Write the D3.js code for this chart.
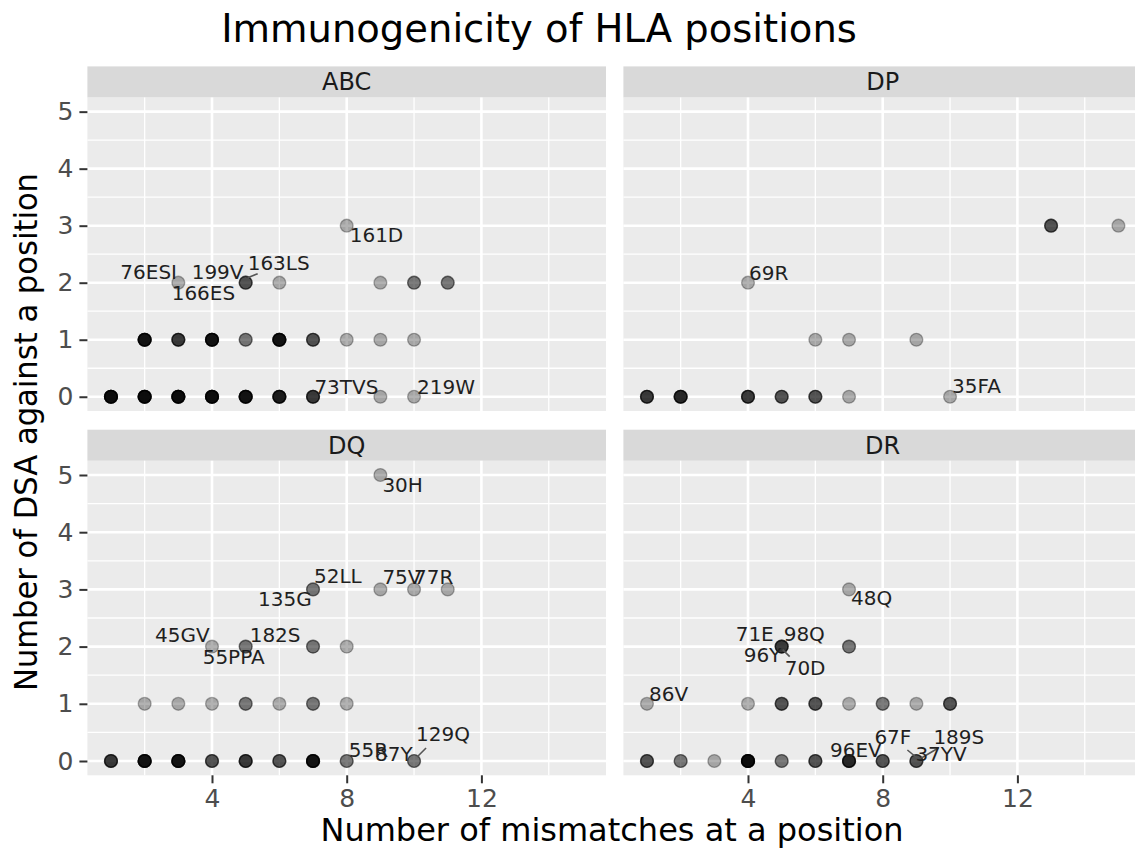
<!DOCTYPE html>
<html>
<head>
<meta charset="utf-8">
<script src="https://cdn.jsdelivr.net/npm/d3@7"></script>
<style>
  html, body { margin: 0; padding: 0; background: #ffffff; }
  svg { display: block; font-family: "DejaVu Sans", sans-serif; }
</style>
</head>
<body>
<svg id="chart" width="1135" height="849"></svg>
<script>
// ---------------- DATA ----------------
const facets = ["ABC", "DP", "DQ", "DR"];
const xTicks = [4, 8, 12];
const yTicks = [0, 1, 2, 3, 4, 5];
const titleText = "Immunogenicity of HLA positions";
const xTitle = "Number of mismatches at a position";
const yTitle = "Number of DSA against a position";

// points: [mismatches, DSA, number of positions overlapping at that spot]
const abcPoints = [
  [1,0,8],[2,0,8],[3,0,8],[4,0,8],[5,0,7],[6,0,6],[7,0,4],[9,0,1],[10,0,1],
  [2,1,7],[3,1,4],[4,1,7],[5,1,2],[6,1,7],[7,1,3],[8,1,1],[9,1,1],[10,1,1],
  [3,2,1],[5,2,3],[6,2,1],[9,2,1],[10,2,2],[11,2,2],
  [8,3,1]
];
const dpPoints = [
  [1,0,4],[2,0,5],[4,0,4],[5,0,3],[6,0,3],[7,0,1],[10,0,1],
  [6,1,1],[7,1,1],[9,1,1],
  [4,2,1],
  [13,3,3],[15,3,1]
];
const dqPoints = [
  [1,0,4],[2,0,7],[3,0,7],[4,0,3],[5,0,4],[6,0,3],[7,0,7],[8,0,2],[10,0,2],
  [2,1,1],[3,1,1],[4,1,1],[5,1,2],[6,1,1],[7,1,2],[8,1,1],
  [4,2,1],[5,2,2],[7,2,2],[8,2,1],
  [7,3,2],[9,3,1],[10,3,1],[11,3,1],
  [9,5,1]
];
const drPoints = [
  [1,0,3],[2,0,2],[3,0,1],[4,0,8],[5,0,2],[6,0,3],[7,0,5],[8,0,3],[9,0,3],
  [1,1,1],[4,1,1],[5,1,3],[6,1,3],[7,1,1],[8,1,2],[9,1,1],[10,1,3],
  [5,2,4],[7,2,2],
  [7,3,1]
];

// labels: [text, mismatches, DSA]
const abcLabels = [["76ESI",3,2],["199V",5,2],["163LS",5,2],["166ES",5,2],["161D",8,3],["73TVS",9,0],["219W",10,0]];
const dpLabels  = [["69R",4,2],["35FA",10,0]];
const dqLabels  = [["30H",9,5],["52LL",7,3],["135G",7,3],["75V",9,3],["77R",10,3],["45GV",4,2],["182S",5,2],["55PPA",5,2],["55R",8,0],["87Y",10,0],["129Q",10,0]];
const drLabels  = [["48Q",7,3],["71E",5,2],["98Q",5,2],["96Y",5,2],["70D",5,2],["86V",1,1],["96EV",7,0],["67F",9,0],["189S",9,0],["37YV",9,0]];

const pointSets = { ABC: abcPoints, DP: dpPoints, DQ: dqPoints, DR: drPoints };
const labelSets = { ABC: abcLabels, DP: dpLabels, DQ: dqLabels, DR: drLabels };

// ---------------- LAYOUT (pixels, not data) ----------------
// label placement relative to its point: [dx to text start, dy to baseline, optional segment]
const labelLayout = {
  ABC: {
    "76ESI": [-58, -4], "199V": [-54, -4], "163LS": [2, -13, [2,-5,12,-9]], "166ES": [-74, 17],
    "161D": [3, 16], "73TVS": [-66, -3], "219W": [3, -3]
  },
  DP: { "69R": [1, -3], "35FA": [2, -4] },
  DQ: {
    "30H": [2, 17], "52LL": [1, -6], "135G": [-55, 17], "75V": [2, -5], "77R": [0, -5],
    "45GV": [-57, -5], "182S": [4, -5], "55PPA": [-43, 17], "55R": [2, -4], "87Y": [-39, 0],
    "129Q": [2, -20, [3,-4,12,-13]]
  },
  DR: {
    "48Q": [2, 16], "71E": [-46, -6], "98Q": [2, -6], "96Y": [-38, 15], "70D": [3, 28, [1,3,8,10]],
    "86V": [2, -3], "96EV": [-19, -4], "67F": [-42, -17, [-9,-11,2,-2]], "189S": [17, -17, [22,-13,5,-3]],
    "37YV": [-1, 0]
  }
};

const W = 1135, H = 849;
const colX = [[87.4, 606.0], [623.4, 1142.0]];
const rowY = [[97.4, 411.0], [460.7, 775.3]];
const stripH = 31;
const xDomain = [0.3, 15.7];
const yDomain = [-0.25, 5.25];

const svg = d3.select("#chart");
svg.append("rect").attr("width", W).attr("height", H).attr("fill", "#ffffff");

const root = svg.append("g");

facets.forEach((f, i) => {
  const c = i % 2, r = Math.floor(i / 2);
  const [x0, x1] = colX[c];
  const [y0, y1] = rowY[r];
  const x = d3.scaleLinear().domain(xDomain).range([x0, x1]);
  const y = d3.scaleLinear().domain(yDomain).range([y1, y0]);

  const g = root.append("g");

  // panel background
  g.append("rect").attr("x", x0).attr("y", y0).attr("width", x1 - x0).attr("height", y1 - y0).attr("fill", "#EBEBEB");

  // strip
  g.append("rect").attr("x", x0).attr("y", y0 - stripH).attr("width", x1 - x0).attr("height", stripH).attr("fill", "#D9D9D9");
  g.append("text").attr("x", (x0 + x1) / 2).attr("y", y0 - stripH / 2 + 8.5)
    .attr("text-anchor", "middle").attr("font-size", 24).attr("fill", "#1A1A1A").text(f);

  // grid
  const minorX = [2, 6, 10, 14];
  const minorY = [0.5, 1.5, 2.5, 3.5, 4.5];
  g.selectAll(".mnx").data(minorX).enter().append("line")
    .attr("x1", d => x(d)).attr("x2", d => x(d)).attr("y1", y0).attr("y2", y1)
    .attr("stroke", "#ffffff").attr("stroke-width", 1.3);
  g.selectAll(".mny").data(minorY).enter().append("line")
    .attr("x1", x0).attr("x2", x1).attr("y1", d => y(d)).attr("y2", d => y(d))
    .attr("stroke", "#ffffff").attr("stroke-width", 1.3);
  g.selectAll(".mjx").data(xTicks).enter().append("line")
    .attr("x1", d => x(d)).attr("x2", d => x(d)).attr("y1", y0).attr("y2", y1)
    .attr("stroke", "#ffffff").attr("stroke-width", 2.6);
  g.selectAll(".mjy").data(yTicks).enter().append("line")
    .attr("x1", x0).attr("x2", x1).attr("y1", d => y(d)).attr("y2", d => y(d))
    .attr("stroke", "#ffffff").attr("stroke-width", 2.6);

  // points (each overlapping position drawn as a semi-transparent dot)
  const pts = [];
  pointSets[f].forEach(([mx, dsa, n]) => { for (let k = 0; k < n; k++) pts.push([mx, dsa]); });
  g.selectAll(".pt").data(pts).enter().append("circle")
    .attr("cx", d => x(d[0])).attr("cy", d => y(d[1])).attr("r", 6.4)
    .attr("fill", "#000").attr("fill-opacity", 0.3)
    .attr("stroke", "#000").attr("stroke-opacity", 0.3).attr("stroke-width", 1.4);

  // labels
  const lay = labelLayout[f];
  labelSets[f].forEach(([txt, mx, dsa]) => {
    const [dx, dy, seg] = lay[txt];
    const px = x(mx), py = y(dsa);
    if (seg) {
      g.append("line").attr("x1", px + seg[0]).attr("y1", py + seg[1]).attr("x2", px + seg[2]).attr("y2", py + seg[3])
        .attr("stroke", "#555").attr("stroke-width", 1.6);
    }
    g.append("text").attr("x", px + dx).attr("y", py + dy).attr("font-size", 20).attr("fill", "#1f1f1f").text(txt);
  });

  // axes
  if (c === 0) {
    const ax = g.append("g").attr("transform", `translate(${x0},0)`)
      .call(d3.axisLeft(y).tickValues(yTicks).tickFormat(d3.format("d")).tickSize(8).tickPadding(6));
    ax.select(".domain").remove();
    ax.selectAll("line").attr("stroke", "#333333").attr("stroke-width", 2);
    ax.selectAll("text").attr("font-size", 25).attr("fill", "#4D4D4D").attr("font-family", "DejaVu Sans");
  }
  if (r === 1) {
    const ax = g.append("g").attr("transform", `translate(0,${y1})`)
      .call(d3.axisBottom(x).tickValues(xTicks).tickFormat(d3.format("d")).tickSize(8).tickPadding(6));
    ax.select(".domain").remove();
    ax.selectAll("line").attr("stroke", "#333333").attr("stroke-width", 2);
    ax.selectAll("text").attr("font-size", 25).attr("fill", "#4D4D4D").attr("font-family", "DejaVu Sans");
  }
});

// titles
svg.append("text").attr("x", 539).attr("y", 42).attr("text-anchor", "middle")
  .attr("font-size", 38.5).attr("fill", "#000").text(titleText);
svg.append("text").attr("x", 612).attr("y", 841).attr("text-anchor", "middle")
  .attr("font-size", 32).attr("fill", "#000").text(xTitle);
svg.append("text").attr("transform", "translate(37,432) rotate(-90)").attr("text-anchor", "middle")
  .attr("font-size", 32).attr("textLength", 518).attr("lengthAdjust", "spacingAndGlyphs")
  .attr("fill", "#000").text(yTitle);
</script>
</body>
</html>
